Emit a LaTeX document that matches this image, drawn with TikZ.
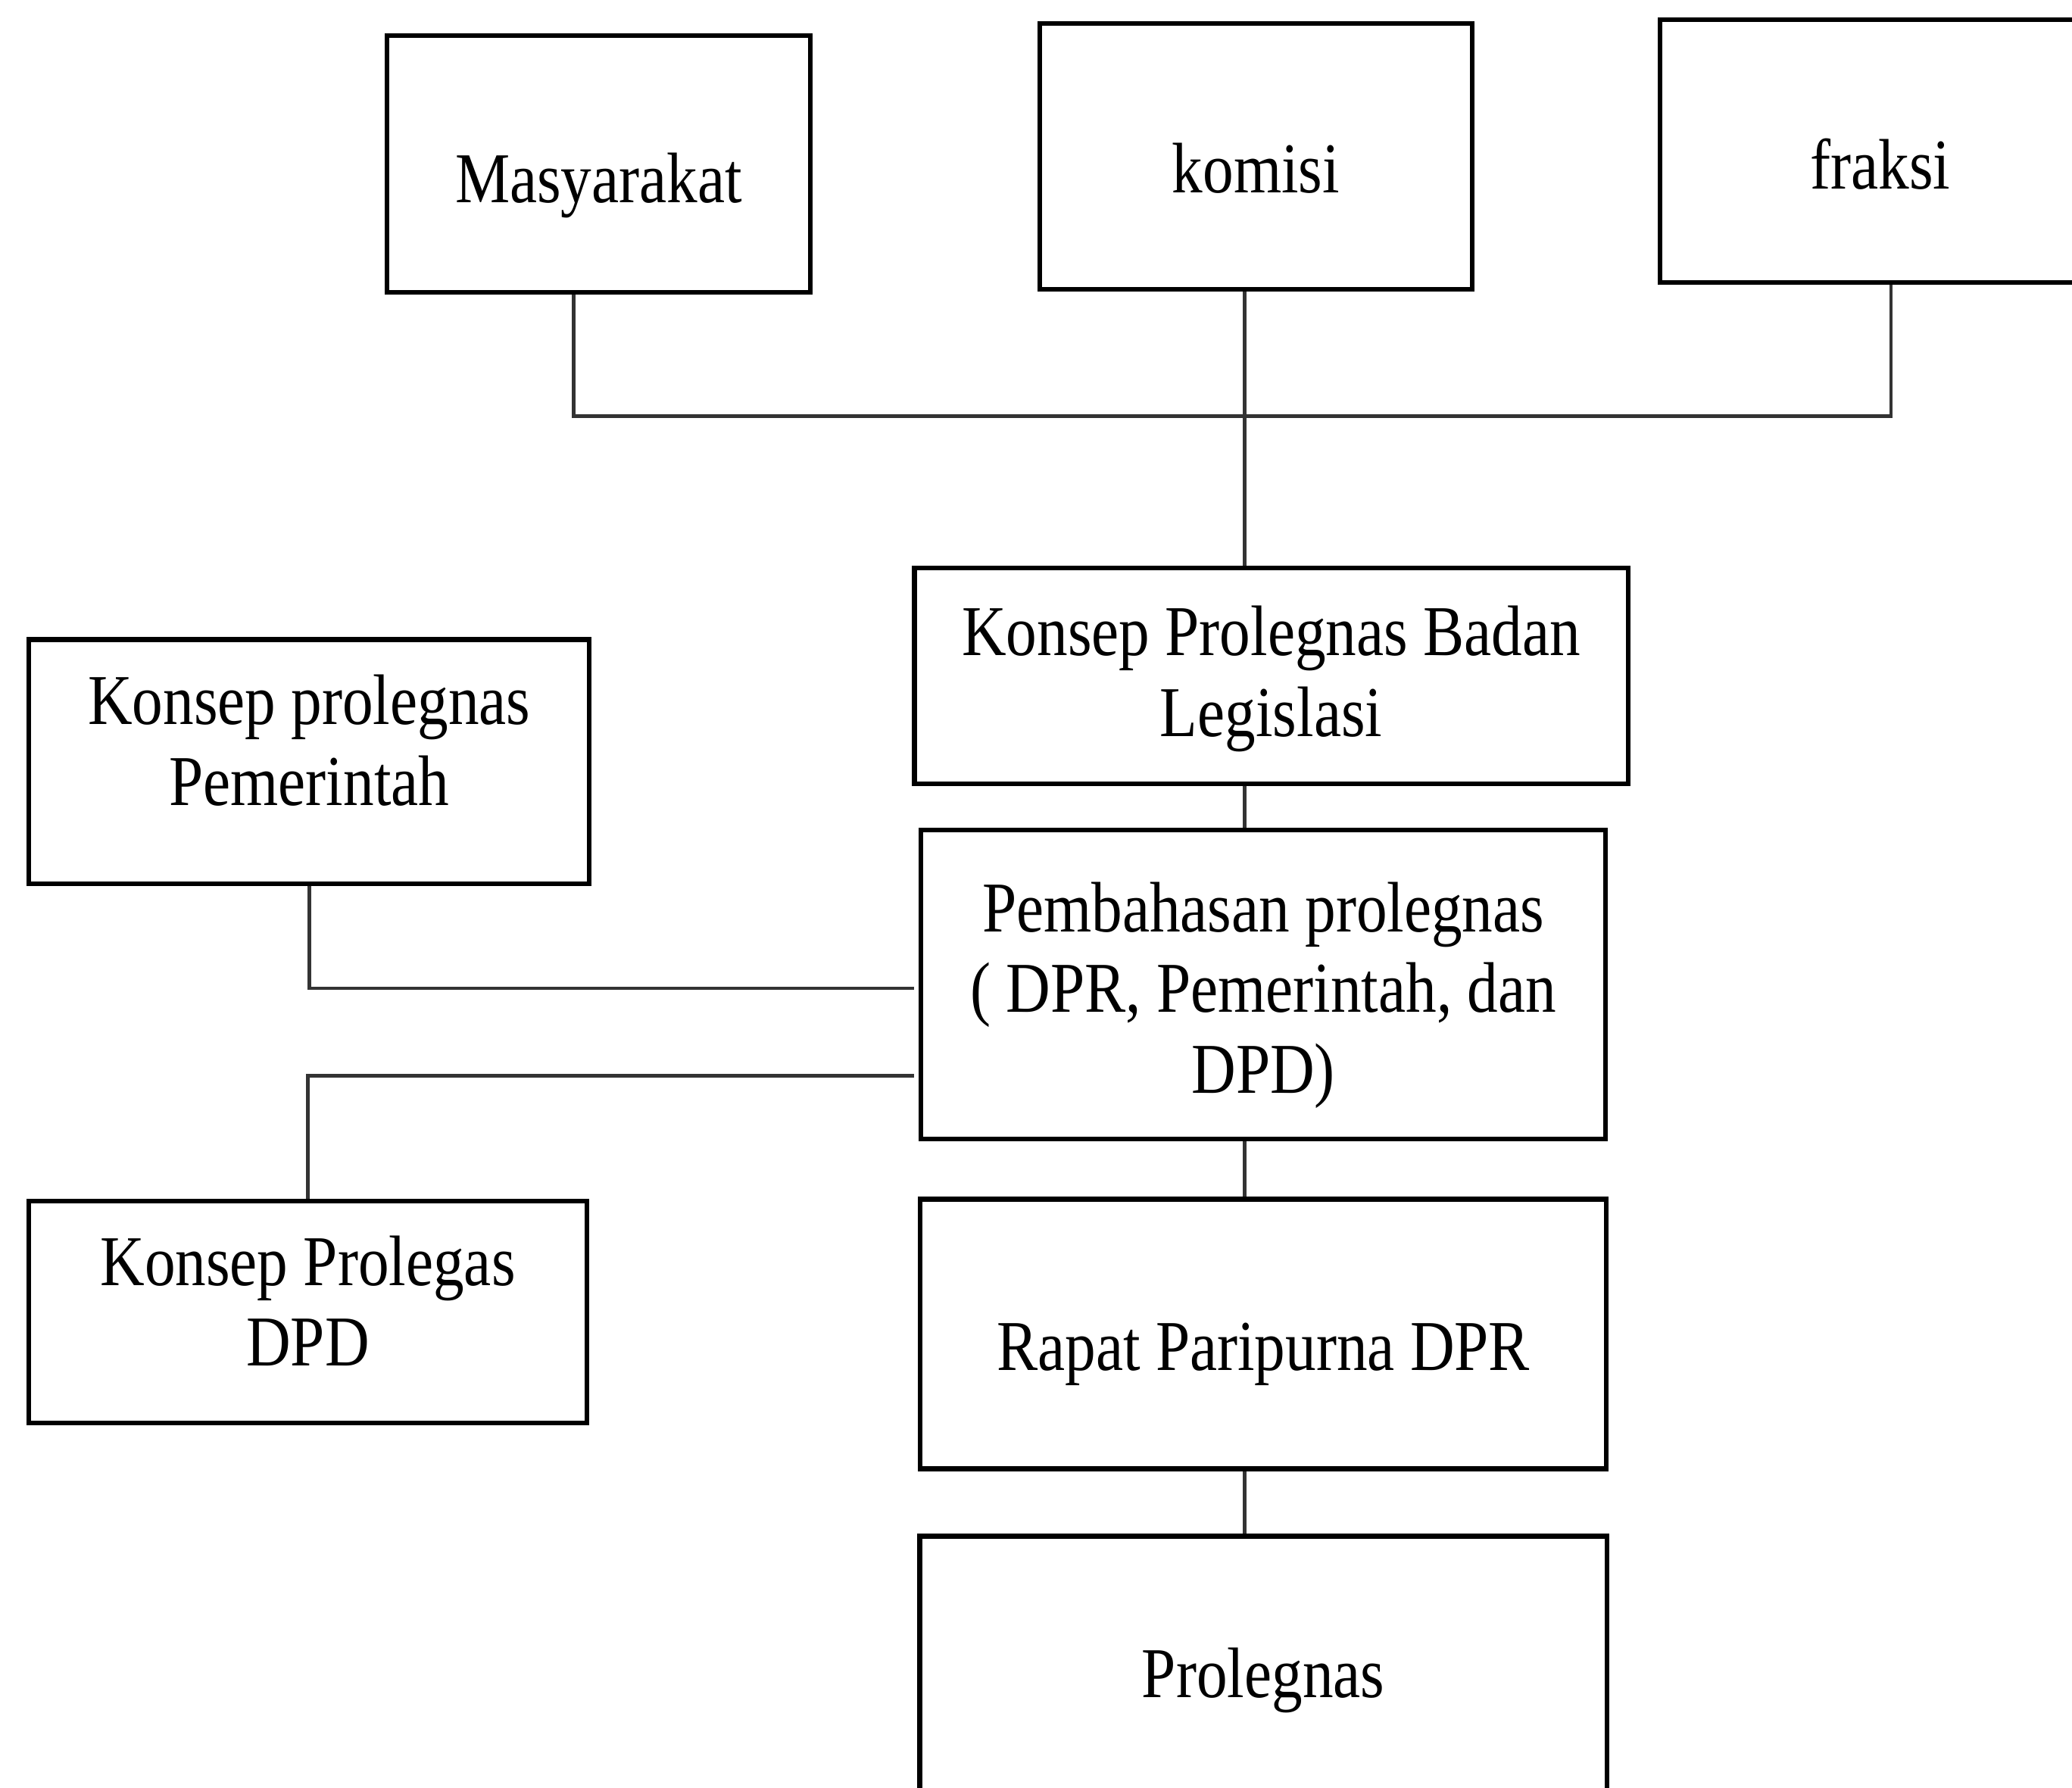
\documentclass[tikz,border=0pt]{standalone}
\usepackage{fontspec}
\setmainfont[FakeStretch=0.86]{Liberation Serif}
\usetikzlibrary{positioning}
\newcommand{\liftbox}[2]{\raisebox{#1}[\height][\depth]{\begin{tabular}{@{}c@{}}#2\end{tabular}}}

\begin{document}
\begin{tikzpicture}[x=0.1mm,y=-0.1mm,node distance=4.2mm,
  box/.style={draw,line width=1pt,inner sep=2pt,font=\fontsize{15.4}{17.4}\selectfont},
  link/.style={draw=black!80,line width=0.75pt}]
\useasboundingbox (0,0) rectangle (1568,1353);
\clip (0,0) rectangle (1568,1353);
%\draw[help lines] (0,0) grid[step=100] (1568,1353);
\path node[box,minimum width=32mm,minimum height=19.4mm] (masy) at (453,124) {\liftbox{-1.7mm}{Masyarakat}};
\path node[box,minimum width=32.7mm,minimum height=20.1mm] (komisi) at (950.5,118.5) {\liftbox{-1.5mm}{komisi}};
\path node[box,minimum width=33.4mm,minimum height=19.9mm] (fraksi) at (1423,114.5) {\liftbox{-1.6mm}{fraksi}};

\path node[box,minimum width=54mm,minimum height=16.3mm] (badan) at (962,511.5) {\liftbox{-0.3mm}{Konsep Prolegnas Badan\\Legislasi}};
\path node[box,minimum width=51.8mm,minimum height=23.4mm] (bahas) at (956,745) {\liftbox{-0.9mm}{Pembahasan prolegnas\\( DPR, Pemerintah, dan\\DPD)}};
\path node[box,minimum width=51.9mm,minimum height=20.4mm,below=of bahas] (rapat) {\liftbox{-1.5mm}{Rapat Paripurna DPR}};
\path node[box,minimum width=52mm,minimum height=22mm,below=4.75mm of rapat] (prol) {\liftbox{0mm}{Prolegnas}};

\path node[box,minimum width=42.4mm,minimum height=18.5mm] (pemer) at (234,576.5) {\liftbox{1mm}{Konsep prolegnas\\Pemerintah}};
\path node[box,minimum width=42.2mm,minimum height=16.8mm] (dpd) at (233,993) {\liftbox{0.2mm}{Konsep Prolegas\\DPD}};

\coordinate (hub) at (942,315);
\coordinate (inP) at (692,748);
\coordinate (inD) at (692,814);

\path[link] ([xshift=-1.9mm]masy.south) |- (hub) -| ([xshift=0.8mm]fraksi.south);
\path[link] (komisi.south -| hub) -- (badan.north -| hub);
\path[link] (badan.south -| hub) -- (bahas.north -| hub);
\path[link] (bahas.south -| hub) -- (rapat.north -| hub);
\path[link] (rapat.south -| hub) -- (prol.north -| hub);
\path[link] (pemer.south) |- (inP);
\path[link] (dpd.north) |- (inD);
\end{tikzpicture}
\end{document}
